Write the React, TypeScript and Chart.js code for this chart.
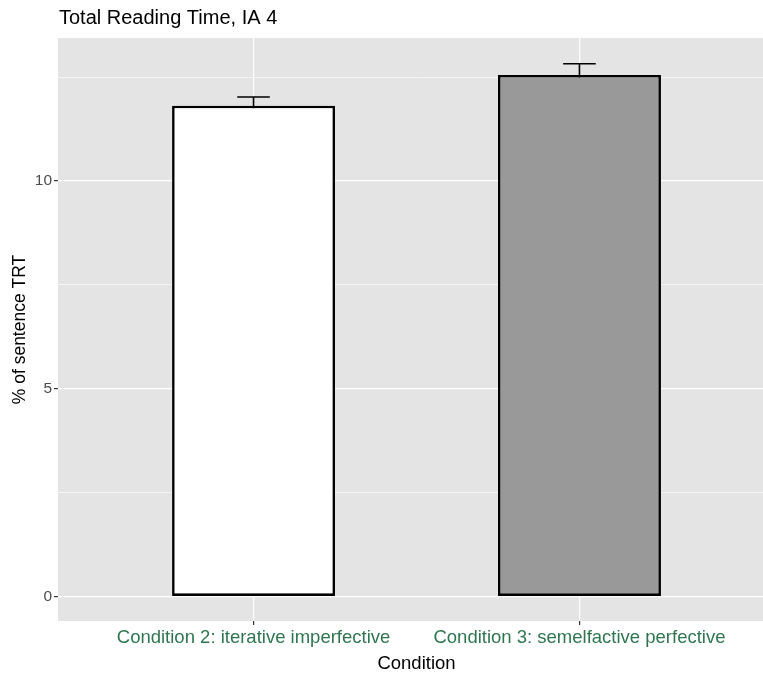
import React, { useEffect, useRef } from "react";
import { Chart, registerables } from "chart.js";
Chart.register(...registerables);

const CATEGORIES = ["Condition 2: iterative imperfective", "Condition 3: semelfactive perfective"];
const CATEGORY_POS = [1, 2];
const MEANS = [11.81, 12.55];
const ERRORS = [0.21, 0.27];
const FILLS = ["#FFFFFF", "#999999"];
const Y_GRID = [0, 2.5, 5, 7.5, 10, 12.5];
const Y_LABELS = [0, 5, 10];
const Y_RANGE = [-0.59, 13.44];
const X_RANGE = [0.4, 2.6];
const TITLE = "Total Reading Time, IA 4";
const X_TITLE = "Condition";
const Y_TITLE = "% of sentence TRT";

const FONT = "'Liberation Sans', Arial, Helvetica, sans-serif";

export default function App() {
  const ref = useRef<HTMLCanvasElement | null>(null);

  useEffect(() => {
    const canvas = ref.current;
    if (!canvas) return;
    Chart.defaults.font.family = FONT;

    const panelBg = {
      id: "panelBg",
      beforeDraw(chart: any) {
        const { ctx, chartArea } = chart;
        ctx.save();
        ctx.fillStyle = "#E4E4E4";
        ctx.fillRect(chartArea.left, chartArea.top, chartArea.right - chartArea.left, chartArea.bottom - chartArea.top);
        ctx.restore();
      },
    };

    const errorBars = {
      id: "errorBars",
      beforeDatasetsDraw(chart: any) {
        const { ctx } = chart;
        const xs = chart.scales.x;
        const ys = chart.scales.y;
        ctx.save();
        ctx.strokeStyle = "#000";
        ctx.lineWidth = 1.6;
        MEANS.forEach((m, i) => {
          const x = xs.getPixelForValue(CATEGORY_POS[i]);
          const xl = xs.getPixelForValue(CATEGORY_POS[i] - 0.05);
          const xr = xs.getPixelForValue(CATEGORY_POS[i] + 0.05);
          const yt = ys.getPixelForValue(m + ERRORS[i]);
          const yb = ys.getPixelForValue(m - ERRORS[i]);
          ctx.beginPath();
          ctx.moveTo(x, yb);
          ctx.lineTo(x, yt);
          ctx.moveTo(xl, yt);
          ctx.lineTo(xr, yt);
          ctx.moveTo(xl, yb);
          ctx.lineTo(xr, yb);
          ctx.stroke();
        });
        ctx.restore();
      },
    };

    const titlePlugin = {
      id: "plotTitle",
      afterDraw(chart: any) {
        const { ctx, chartArea } = chart;
        ctx.save();
        ctx.fillStyle = "#000";
        ctx.font = `20px ${FONT}`;
        ctx.textAlign = "left";
        ctx.textBaseline = "middle";
        ctx.fillText(TITLE, chartArea.left + 1, 18);
        ctx.restore();
      },
    };

    const chart = new Chart(canvas, {
      type: "bar",
      data: {
        datasets: [
          {
            data: MEANS.map((m, i) => ({ x: CATEGORY_POS[i], y: m })),
            backgroundColor: FILLS,
            borderColor: "#000",
            borderWidth: 2.6,
            borderSkipped: false,
            barPercentage: 0.5,
            categoryPercentage: 1,
          },
        ],
      },
      options: {
        animation: false,
        responsive: false,
        devicePixelRatio: 1,
        layout: { padding: { top: 38, left: 0, right: 0, bottom: 0 } },
        plugins: { legend: { display: false }, tooltip: { enabled: false }, title: { display: false } },
        scales: {
          x: {
            type: "linear",
            offset: false,
            min: X_RANGE[0],
            max: X_RANGE[1],
            afterBuildTicks(scale: any) {
              scale.ticks = CATEGORY_POS.map((v) => ({ value: v }));
            },
            afterFit(scale: any) {
              scale.height = 69;
            },
            border: { display: false },
            grid: {
              offset: false,
              color: "#FFFFFF",
              lineWidth: 1.2,
              tickColor: "#333333",
              tickLength: 4,
              tickWidth: 1.2,
            },
            ticks: {
              autoSkip: false,
              maxRotation: 0,
              padding: 2,
              color: "#2F7650",
              font: { size: 18.5 },
              callback: (v: any) => CATEGORIES[CATEGORY_POS.indexOf(Number(v))] ?? "",
            },
            title: {
              display: true,
              text: X_TITLE,
              color: "#000",
              font: { size: 18.5 },
              padding: { top: 0, bottom: 15 },
            },
          },
          y: {
            type: "linear",
            min: Y_RANGE[0],
            max: Y_RANGE[1],
            afterBuildTicks(scale: any) {
              scale.ticks = Y_GRID.map((v) => ({ value: v }));
            },
            afterFit(scale: any) {
              scale.width = 58;
            },
            border: { display: false },
            grid: {
              color: "#FFFFFF",
              lineWidth: (c: any) => (Y_LABELS.includes(c.tick?.value) ? 1.2 : 0.6),
              tickColor: (c: any) => (Y_LABELS.includes(c.tick?.value) ? "#333333" : "rgba(0,0,0,0)"),
              tickLength: 4,
              tickWidth: 1.2,
            },
            ticks: {
              autoSkip: false,
              padding: 2,
              color: "#4D4D4D",
              font: { size: 15.5 },
              callback: (v: any) => (Y_LABELS.includes(Number(v)) ? String(v) : ""),
            },
            title: {
              display: true,
              text: Y_TITLE,
              color: "#000",
              font: { size: 17.5 },
              padding: { top: 10, bottom: 0 },
            },
          },
        },
      },
      plugins: [panelBg, errorBars, titlePlugin],
    });

    return () => chart.destroy();
  }, []);

  return (
    <div style={{ position: "fixed", left: 0, top: 0, width: 763, height: 673, overflow: "hidden", background: "#fff" }}>
      <canvas ref={ref} width={775} height={690} style={{ width: 775, height: 690, display: "block" }} />
    </div>
  );
}
